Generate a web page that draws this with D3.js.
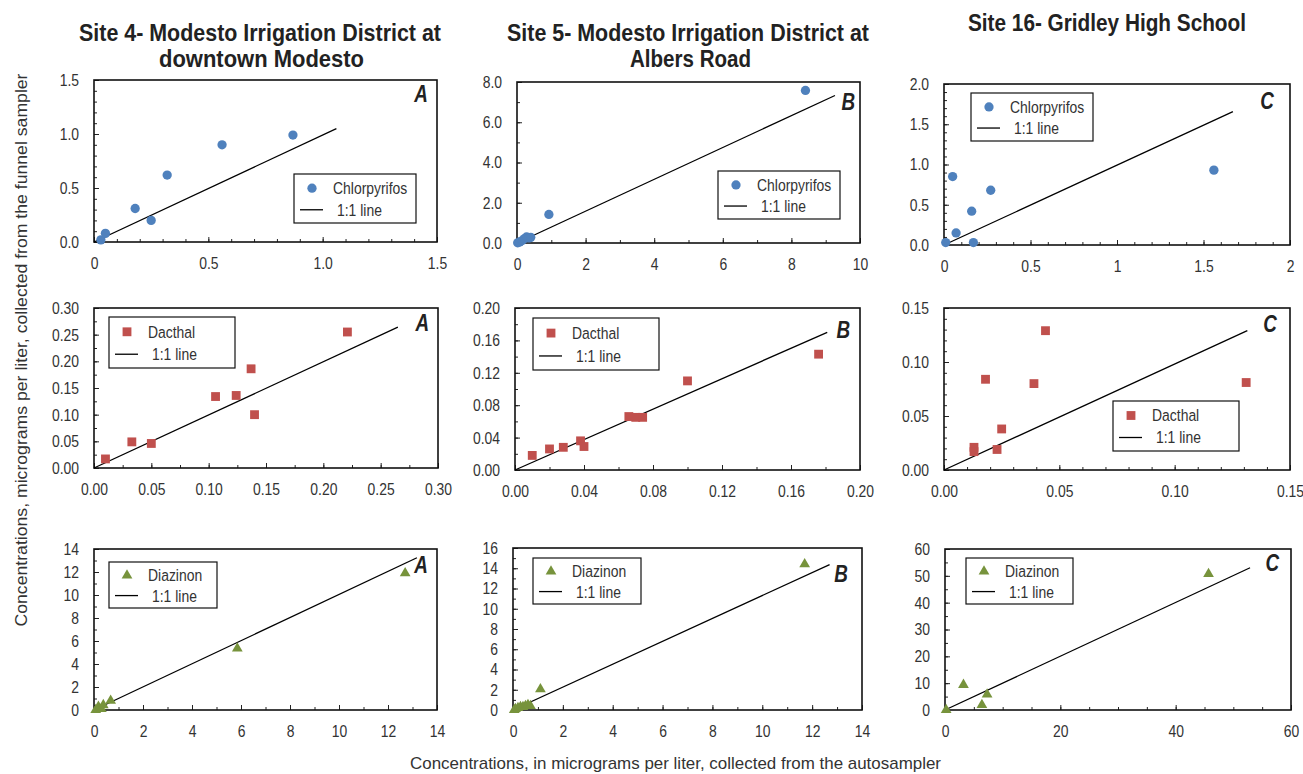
<!DOCTYPE html>
<html>
<head>
<meta charset="utf-8">
<script src="https://cdn.jsdelivr.net/npm/d3@7/dist/d3.min.js"></script>
<style>
    body { margin: 0; background: #fff; }
    svg text { font-family: "Liberation Sans", Arial, sans-serif; }
    .tick text { font-size: 17px; fill: #333; }
    .title { font-size: 24px; font-weight: bold; fill: #222; }
    .letter { font-size: 23px; font-weight: bold; font-style: italic; fill: #222; }
    .legend text { font-size: 17px; fill: #333; }
    .axis-title { font-size: 17px; fill: #333; }
</style>
</head>
<body>
<div id="graph"></div>
<script>
'use strict';

// ---- data ----
// row 1: chlorpyrifos
const site4ChlorX = [0.03, 0.05, 0.18, 0.25, 0.32, 0.56, 0.87];
const site4ChlorY = [0.02, 0.08, 0.31, 0.20, 0.62, 0.90, 0.99];
const site5ChlorX = [0.02, 0.08, 0.15, 0.22, 0.28, 0.35, 0.40, 0.93, 8.41];
const site5ChlorY = [0.01, 0.05, 0.12, 0.22, 0.30, 0.25, 0.28, 1.42, 7.58];
const site16ChlorX = [0.01, 0.05, 0.07, 0.16, 0.17, 0.27, 1.56];
const site16ChlorY = [0.03, 0.85, 0.15, 0.42, 0.03, 0.68, 0.93];

// row 2: dacthal
const site4DacX = [0.010, 0.033, 0.050, 0.106, 0.124, 0.137, 0.140, 0.221];
const site4DacY = [0.017, 0.049, 0.046, 0.134, 0.136, 0.186, 0.100, 0.255];
const site5DacX = [0.010, 0.020, 0.028, 0.038, 0.040, 0.066, 0.070, 0.074, 0.100, 0.176];
const site5DacY = [0.018, 0.026, 0.028, 0.036, 0.029, 0.066, 0.065, 0.065, 0.110, 0.143];
const site16DacX = [0.013, 0.013, 0.018, 0.023, 0.025, 0.039, 0.044, 0.131];
const site16DacY = [0.021, 0.017, 0.084, 0.019, 0.038, 0.080, 0.129, 0.081];

// row 3: diazinon
const site4DiaX = [0.07, 0.18, 0.38, 0.30, 0.68, 5.85, 12.7];
const site4DiaY = [0.00, 0.29, 0.43, 0.10, 0.81, 5.36, 11.9];
const site5DiaX = [0.05, 0.10, 0.20, 0.30, 0.40, 0.50, 0.60, 0.70, 1.10, 11.7];
const site5DiaY = [0.00, 0.10, 0.20, 0.30, 0.30, 0.40, 0.50, 0.40, 2.05, 14.4];
const site16DiaX = [0.2, 3.2, 6.4, 7.3, 45.7];
const site16DiaY = [0.0, 9.4, 1.9, 5.8, 50.7];

// end points of the "1:1 line" in each panel (row by row)
const lineEndX = [1.06, 9.27, 1.67, 0.265, 0.181, 0.1315, 13.18, 12.7, 52.9];
const lineEndY = [1.05, 7.33, 1.656, 0.264, 0.170, 0.129, 13.24, 14.36, 53.0];

// tick labels
const xTicks = [
    ['0', '0.5', '1.0', '1.5'], ['0', '2', '4', '6', '8', '10'], ['0', '0.5', '1', '1.5', '2'],
    ['0.00', '0.05', '0.10', '0.15', '0.20', '0.25', '0.30'], ['0.00', '0.04', '0.08', '0.12', '0.16', '0.20'], ['0.00', '0.05', '0.10', '0.15'],
    ['0', '2', '4', '6', '8', '10', '12', '14'], ['0', '2', '4', '6', '8', '10', '12', '14'], ['0', '20', '40', '60']
];
const yTicks = [
    ['0.0', '0.5', '1.0', '1.5'], ['0.0', '2.0', '4.0', '6.0', '8.0'], ['0.0', '0.5', '1.0', '1.5', '2.0'],
    ['0.00', '0.05', '0.10', '0.15', '0.20', '0.25', '0.30'], ['0.00', '0.04', '0.08', '0.12', '0.16', '0.20'], ['0.00', '0.05', '0.10', '0.15'],
    ['0', '2', '4', '6', '8', '10', '12', '14'], ['0', '2', '4', '6', '8', '10', '12', '14', '16'], ['0', '10', '20', '30', '40', '50', '60']
];
const xMinorStep = [0.1, 1, 0.1, 0.025, 0.02, 0.01, 1, 1, 5];
const yMinorStep = [0.1, 1, 0.1, 0.025, 0.02, 0.01, 1, 1, 5];

const siteTitles = [
    ['Site 4- Modesto Irrigation District at', 'downtown Modesto'],
    ['Site 5- Modesto Irrigation District at', 'Albers Road'],
    ['Site 16- Gridley High School']
];
const compounds = ['Chlorpyrifos', 'Dacthal', 'Diazinon'];
const panelLetters = ['A', 'B', 'C'];
const xTitle = 'Concentrations, in micrograms per liter, collected from the autosampler';
const yTitle = 'Concentrations, micrograms per liter, collected from the funnel sampler';

// ---- layout ----
const width = 1303, height = 774;
const narrow = 0.82;   // horizontal squeeze to get a condensed face
const frames = [
    {l: 94, r: 437, t: 80, b: 242}, {l: 517, r: 860, t: 82, b: 243}, {l: 944, r: 1290, t: 84, b: 245},
    {l: 94, r: 438, t: 308, b: 468}, {l: 515, r: 860, t: 308, b: 470}, {l: 944, r: 1290, t: 308, b: 470},
    {l: 94, r: 437, t: 549, b: 710}, {l: 513, r: 862, t: 548, b: 710}, {l: 945, r: 1291, t: 549, b: 710}
];
// legend boxes in page pixels
const legendBoxes = [
    {x: 294, y: 174, w: 122, h: 49}, {x: 718, y: 171, w: 122, h: 48}, {x: 971, y: 93, w: 122, h: 48},
    {x: 109, y: 317, w: 126, h: 51}, {x: 533, y: 318, w: 126, h: 52}, {x: 1113, y: 401, w: 126, h: 50},
    {x: 109, y: 562, w: 108, h: 46}, {x: 533, y: 558, w: 108, h: 46}, {x: 966, y: 558, w: 107, h: 46}
];
const letterPos = [
    {x: 428, y: 102}, {x: 855, y: 110}, {x: 1274, y: 109},
    {x: 429, y: 331}, {x: 850, y: 338}, {x: 1277, y: 332},
    {x: 428, y: 573}, {x: 848, y: 582}, {x: 1279, y: 571}
];
// title lines: centre, baseline, width
const titleBoxes = [
    [{x: 260, y: 41, w: 362}, {x: 261.5, y: 67, w: 205}],
    [{x: 688, y: 41, w: 362}, {x: 690.5, y: 67, w: 121}],
    [{x: 1107, y: 31, w: 278}]
];
const colors = ['#4F81BD', '#C0504D', '#77933C'];
const symbols = [d3.symbolCircle, d3.symbolSquare, d3.symbolTriangle];
const symbolSizes = [68, 78, 50];

let svg = '';

window.onload = function() {
    svg = d3.select('#graph')
        .append('svg')
        .attr('width', width)
        .attr('height', height);

    const seriesX = [site4ChlorX, site5ChlorX, site16ChlorX, site4DacX, site5DacX, site16DacX, site4DiaX, site5DiaX, site16DiaX];
    const seriesY = [site4ChlorY, site5ChlorY, site16ChlorY, site4DacY, site5DacY, site16DacY, site4DiaY, site5DiaY, site16DiaY];

    for (let i = 0; i < 9; i++) {
        drawPanel(i, seriesX[i], seriesY[i]);
    }

    // squeeze tick, legend and letter texts into a narrow face
    svg.selectAll('.tick text, .legend text, .letter').each(function() {
        const x = +this.getAttribute('x') || 0;
        this.setAttribute('x', x / narrow);
        this.setAttribute('transform', 'scale(' + narrow + ',1)');
    });

    // column titles
    siteTitles.forEach((lines, c) => {
        lines.forEach((line, k) => {
            const b = titleBoxes[c][k];
            svg.append('text')
                .attr('class', 'title')
                .attr('text-anchor', 'middle')
                .attr('x', b.x)
                .attr('y', b.y)
                .attr('textLength', b.w)
                .attr('lengthAdjust', 'spacingAndGlyphs')
                .text(line);
        });
    });

    // axis titles
    svg.append('text')
        .attr('class', 'axis-title')
        .attr('text-anchor', 'middle')
        .attr('x', 675.5)
        .attr('y', 769)
        .attr('textLength', 531)
        .attr('lengthAdjust', 'spacingAndGlyphs')
        .text(xTitle);

    svg.append('text')
        .attr('class', 'axis-title')
        .attr('text-anchor', 'middle')
        .attr('transform', 'translate(27, 350)rotate(-90)')
        .attr('textLength', 553)
        .attr('lengthAdjust', 'spacingAndGlyphs')
        .text(yTitle);
};

function drawPanel(i, xs, ys) {
    const f = frames[i];
    const row = Math.floor(i / 3);
    const xVals = xTicks[i].map(Number);
    const yVals = yTicks[i].map(Number);
    const xMax = d3.max(xVals), yMax = d3.max(yVals);

    const xScale = d3.scaleLinear().domain([0, xMax]).range([f.l, f.r]);
    const yScale = d3.scaleLinear().domain([0, yMax]).range([f.b, f.t]);

    const g = svg.append('g');

    // minor ticks
    const xMinor = d3.range(0, xMax + 1e-9, xMinorStep[i]);
    const yMinor = d3.range(0, yMax + 1e-9, yMinorStep[i]);

    g.append('g')
        .attr('transform', 'translate(0,' + f.b + ')')
        .call(d3.axisBottom(xScale).tickValues(xMinor).tickSize(-3).tickFormat(''))
        .call(a => a.select('.domain').remove());
    g.append('g')
        .attr('transform', 'translate(' + f.l + ',0)')
        .call(d3.axisLeft(yScale).tickValues(yMinor).tickSize(-3).tickFormat(''))
        .call(a => a.select('.domain').remove());

    // major ticks + labels
    g.append('g')
        .attr('transform', 'translate(0,' + f.b + ')')
        .call(d3.axisBottom(xScale).tickValues(xVals).tickSize(-5).tickPadding(15)
            .tickFormat((d, k) => xTicks[i][k]))
        .call(a => a.select('.domain').remove());
    g.append('g')
        .attr('transform', 'translate(' + f.l + ',0)')
        .call(d3.axisLeft(yScale).tickValues(yVals).tickSize(-5).tickPadding(15)
            .tickFormat((d, k) => yTicks[i][k]))
        .call(a => a.select('.domain').remove());

    g.selectAll('.tick line').attr('stroke', '#222').attr('stroke-width', 1);

    // frame
    g.append('rect')
        .attr('x', f.l)
        .attr('y', f.t)
        .attr('width', f.r - f.l)
        .attr('height', f.b - f.t)
        .attr('fill', 'none')
        .attr('stroke', '#111')
        .attr('stroke-width', 1.6);

    // 1:1 line
    g.append('line')
        .attr('x1', xScale(0))
        .attr('y1', yScale(0))
        .attr('x2', xScale(lineEndX[i]))
        .attr('y2', yScale(lineEndY[i]))
        .attr('stroke', '#000')
        .attr('stroke-width', 1.3);

    // points
    const pts = xs.map((x, k) => ({x: x, y: ys[k]}));
    const sym = d3.symbol().type(symbols[row]).size(symbolSizes[row]);
    g.selectAll('.pt')
        .data(pts)
        .enter()
        .append('path')
        .attr('class', 'pt')
        .attr('d', sym)
        .attr('transform', d => 'translate(' + xScale(d.x) + ',' + yScale(d.y) + ')')
        .attr('fill', colors[row]);

    // legend
    const lb = legendBoxes[i];
    const lg = g.append('g').attr('class', 'legend');
    lg.append('rect')
        .attr('x', lb.x)
        .attr('y', lb.y)
        .attr('width', lb.w)
        .attr('height', lb.h)
        .attr('fill', '#fff')
        .attr('stroke', '#111')
        .attr('stroke-width', 1.2);
    const symX = lb.x + 18;
    lg.append('path')
        .attr('d', sym)
        .attr('transform', 'translate(' + symX + ',' + (lb.y + lb.h * 0.29) + ')')
        .attr('fill', colors[row]);
    lg.append('text')
        .attr('x', lb.x + 39)
        .attr('y', lb.y + lb.h * 0.29)
        .attr('dy', '0.35em')
        .text(compounds[row]);
    lg.append('line')
        .attr('x1', symX - 12)
        .attr('x2', symX + 11)
        .attr('y1', lb.y + lb.h * 0.73)
        .attr('y2', lb.y + lb.h * 0.73)
        .attr('stroke', '#000')
        .attr('stroke-width', 1.3);
    lg.append('text')
        .attr('x', lb.x + 43)
        .attr('y', lb.y + lb.h * 0.73)
        .attr('dy', '0.35em')
        .text('1:1 line');

    // panel letter
    g.append('text')
        .attr('class', 'letter')
        .attr('text-anchor', 'end')
        .attr('x', letterPos[i].x)
        .attr('y', letterPos[i].y)
        .text(panelLetters[i % 3]);
}
</script>
</body>
</html>
